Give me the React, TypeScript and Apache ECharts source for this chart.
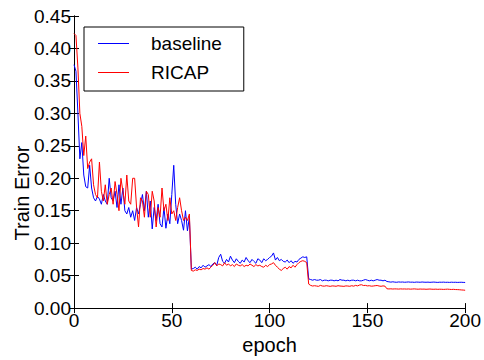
import React, { useEffect, useRef } from "react";
import * as echarts from "echarts";

const xTicks = [0, 50, 100, 150, 200];
const yTicks = [0, 0.05, 0.1, 0.15, 0.2, 0.25, 0.3, 0.35, 0.4, 0.45];
const seriesNames = ["baseline", "RICAP"];

// epochs 0..200
const baseline = [
  0.375, 0.365, 0.3, 0.23, 0.255, 0.205, 0.187, 0.185, 0.22, 0.185,
  0.17, 0.165, 0.172, 0.168, 0.16, 0.175, 0.165, 0.16, 0.2, 0.17,
  0.165, 0.18, 0.155, 0.19, 0.16, 0.185, 0.15, 0.145, 0.155, 0.14,
  0.15, 0.135, 0.155, 0.145, 0.16, 0.175, 0.15, 0.18, 0.14, 0.165,
  0.122, 0.155, 0.135, 0.16, 0.13, 0.125, 0.155, 0.123, 0.145, 0.13,
  0.175, 0.22, 0.16, 0.13, 0.145, 0.135, 0.12, 0.15, 0.119, 0.14,
  0.06, 0.061, 0.063, 0.06, 0.064, 0.062, 0.066, 0.063, 0.065, 0.067,
  0.064, 0.068, 0.07, 0.066, 0.078, 0.083, 0.072, 0.069, 0.075, 0.071,
  0.08, 0.074, 0.07, 0.076, 0.072, 0.069, 0.074, 0.071, 0.078, 0.073,
  0.07, 0.075, 0.072, 0.069, 0.076, 0.074, 0.07, 0.076, 0.073, 0.075,
  0.078, 0.08, 0.085, 0.074, 0.078, 0.073, 0.075, 0.072, 0.071, 0.074,
  0.07, 0.073, 0.069, 0.072, 0.071, 0.075, 0.077, 0.079, 0.078, 0.079,
  0.045, 0.044, 0.043, 0.044, 0.043, 0.043, 0.044, 0.042, 0.043, 0.043,
  0.042, 0.043, 0.043, 0.042, 0.043, 0.042, 0.044, 0.043, 0.043, 0.042,
  0.043, 0.042, 0.043, 0.043, 0.042, 0.043, 0.042, 0.042, 0.043, 0.044,
  0.043, 0.042, 0.043, 0.042, 0.043, 0.044, 0.043, 0.043, 0.042, 0.043,
  0.041, 0.0405, 0.04, 0.0405, 0.04, 0.0398, 0.0403, 0.04, 0.0402, 0.0398,
  0.04, 0.0403, 0.0399, 0.04, 0.0397, 0.0401, 0.04, 0.0398, 0.0402, 0.0399,
  0.0398, 0.04, 0.0397, 0.0399, 0.0401, 0.0398, 0.0396, 0.0399, 0.0398, 0.04,
  0.0397, 0.0398, 0.0396, 0.0399, 0.0397, 0.0398, 0.0396, 0.0397, 0.0398, 0.0396,
  0.0395,
];

const ricap = [
  0.423, 0.42, 0.37, 0.3, 0.28, 0.235, 0.265, 0.215, 0.225, 0.23,
  0.19, 0.175, 0.17, 0.225, 0.18, 0.165, 0.19, 0.16, 0.175, 0.185,
  0.16, 0.195, 0.175, 0.15, 0.2, 0.18, 0.16, 0.205, 0.165, 0.16,
  0.2, 0.2, 0.155, 0.125, 0.17, 0.165, 0.14, 0.18, 0.175, 0.14,
  0.18, 0.165, 0.125, 0.155, 0.14, 0.185, 0.15, 0.16, 0.135, 0.17,
  0.145, 0.15, 0.135, 0.155, 0.17, 0.15, 0.135, 0.14, 0.135, 0.145,
  0.058, 0.057, 0.059, 0.058, 0.06, 0.059, 0.061, 0.06, 0.062, 0.06,
  0.063, 0.066, 0.07, 0.065, 0.068, 0.067, 0.065, 0.07, 0.066, 0.068,
  0.065, 0.067, 0.064, 0.068, 0.066, 0.065, 0.067, 0.064, 0.066, 0.065,
  0.068, 0.066, 0.064, 0.067, 0.065, 0.066, 0.064, 0.063, 0.066, 0.064,
  0.067, 0.068, 0.07, 0.066, 0.063, 0.06, 0.058, 0.061, 0.063, 0.06,
  0.064, 0.062, 0.066, 0.063, 0.067, 0.07, 0.072, 0.073, 0.072, 0.07,
  0.037, 0.035, 0.034, 0.0345, 0.034, 0.0335, 0.035, 0.034, 0.0338, 0.0345,
  0.034, 0.0335, 0.0342, 0.034, 0.0336, 0.0345, 0.034, 0.0338, 0.0335, 0.0342,
  0.034, 0.0336, 0.0345, 0.0338, 0.035, 0.0342, 0.0355, 0.036, 0.0348, 0.035,
  0.0342, 0.0345, 0.0338, 0.034, 0.0345, 0.0348, 0.034, 0.0336, 0.0342, 0.0338,
  0.0298, 0.0295, 0.0297, 0.0294, 0.0296, 0.0295, 0.0293, 0.0296, 0.0294, 0.0295,
  0.0293, 0.0295, 0.0292, 0.0294, 0.0296, 0.0293, 0.0291, 0.0294, 0.0292, 0.0293,
  0.029, 0.0292, 0.0294, 0.0291, 0.029, 0.0292, 0.0289, 0.0291, 0.029, 0.0288,
  0.029, 0.0292, 0.0289, 0.0287, 0.0289, 0.0286, 0.0285, 0.0283, 0.028, 0.0278,
  0.0275,
];

const FONT = "Liberation Sans";

export default function App() {
  const ref = useRef<HTMLDivElement>(null);
  useEffect(() => {
    document.body.style.margin = "0";
    const chart = echarts.init(ref.current!, null, { renderer: "svg" });
    const toPairs = (arr: number[]) => arr.map((v, i) => [i, v]);
    const axisCommon = {
      axisLine: { show: true, lineStyle: { color: "#000", width: 1 } },
      axisTick: { show: true, inside: true, length: 5, lineStyle: { color: "#000" } },
      splitLine: { show: false },
    };
    chart.setOption({
      animation: false,
      backgroundColor: "#fff",
      textStyle: { fontFamily: FONT },
      grid: { left: 74, right: 15, top: 16, bottom: 49 },
      legend: {
        left: 84,
        top: 27,
        orient: "vertical",
        icon: "rect",
        itemWidth: 31,
        itemHeight: 1,
        itemGap: 8,
        padding: [6, 22, 8, 14],
        borderColor: "#000",
        borderWidth: 1,
        backgroundColor: "#fff",
        data: seriesNames,
        textStyle: { fontSize: 19, color: "#000", fontFamily: FONT, padding: [0, 0, 0, 17], lineHeight: 21 },
      },
      xAxis: [
        {
          type: "value",
          min: xTicks[0],
          max: xTicks[xTicks.length - 1],
          interval: 50,
          position: "bottom",
          ...axisCommon,
          axisLabel: { fontSize: 19, color: "#000", margin: 3, fontFamily: FONT, showMaxLabel: true, showMinLabel: true },
          name: "epoch",
          nameLocation: "middle",
          nameGap: 22,
          nameTextStyle: { fontSize: 20, color: "#000", fontFamily: FONT },
        },
        {
          type: "value",
          min: xTicks[0],
          max: xTicks[xTicks.length - 1],
          interval: 50,
          position: "top",
          ...axisCommon,
          axisLabel: { show: false },
        },
      ],
      yAxis: [
        {
          type: "value",
          min: yTicks[0],
          max: yTicks[yTicks.length - 1],
          interval: 0.05,
          position: "left",
          ...axisCommon,
          axisLabel: {
            fontSize: 19,
            color: "#000",
            margin: 3,
            fontFamily: FONT,
            formatter: (v: number) => v.toFixed(2),
          },
        },
        {
          type: "value",
          min: yTicks[0],
          max: yTicks[yTicks.length - 1],
          interval: 0.05,
          position: "right",
          ...axisCommon,
          axisLabel: { show: false },
        },
      ],
      graphic: [
        {
          type: "text",
          x: 22,
          y: 193,
          rotation: Math.PI / 2,
          style: {
            text: "Train Error",
            fontSize: 20,
            fontFamily: FONT,
            fill: "#000",
            align: "center",
            verticalAlign: "middle",
          },
        },
      ],
      series: [
        {
          name: seriesNames[0],
          type: "line",
          data: toPairs(baseline),
          symbol: "none",
          lineStyle: { color: "#0000ff", width: 1 },
          itemStyle: { color: "#0000ff" },
          z: 2,
        },
        {
          name: seriesNames[1],
          type: "line",
          data: toPairs(ricap),
          symbol: "none",
          lineStyle: { color: "#ff0000", width: 1 },
          itemStyle: { color: "#ff0000" },
          z: 3,
        },
      ],
    });
    return () => chart.dispose();
  }, []);
  return <div ref={ref} style={{ width: 484, height: 360 }} />;
}
